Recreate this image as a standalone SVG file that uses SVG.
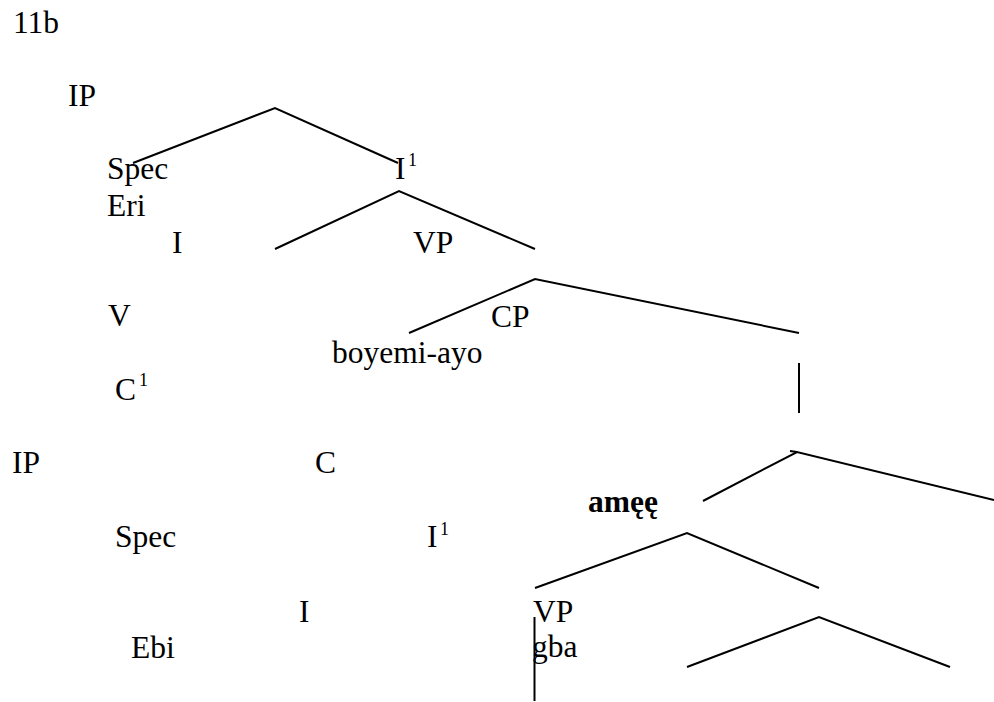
<svg xmlns="http://www.w3.org/2000/svg" width="994" height="702" viewBox="0 0 994 702">
  <style>
    text { font-family: "Liberation Serif", "Times New Roman", serif; font-size: 31.5px; fill: #000; }
    .sup { font-size: 18px; }
    .bold { font-weight: bold; }
    .edge { fill: none; stroke: #000; stroke-width: 2; stroke-linejoin: miter; }
  </style>
  <rect width="994" height="702" fill="#fff"/>

  <!-- tree branches -->
  <g id="connectors">
    <polyline class="edge" points="133,163 275,108 398,163"/>
    <polyline class="edge" points="275,249 399,191 535,249"/>
    <polyline class="edge" points="409,333 535,279 799,333"/>
    <line class="edge" x1="799" y1="363" x2="799" y2="413"/>
    <polyline class="edge" points="703,501 797,452 994,500"/>
    <line class="edge" x1="790" y1="451" x2="797" y2="452"/>
    <polyline class="edge" points="535,588 687,533 819,588"/>
    <line class="edge" x1="534.5" y1="617" x2="534.5" y2="701"/>
    <polyline class="edge" points="687,667 819,617 950,667"/>
  </g>

  <!-- example number -->
  <g id="label-11b"><text x="13" y="33">11b</text></g>

  <!-- upper clause -->
  <g id="node-ip-top"><text x="68" y="106">IP</text></g>
  <g id="node-spec-top"><text x="107" y="179">Spec</text></g>
  <g id="node-eri"><text x="107" y="216">Eri</text></g>
  <g id="node-ibar-top"><text x="395" y="179">I</text><text class="sup" x="408" y="166">1</text></g>
  <g id="node-i-top"><text x="172" y="253">I</text></g>
  <g id="node-vp-top"><text x="413" y="253">VP</text></g>
  <g id="node-v"><text x="108" y="326">V</text></g>
  <g id="node-cp"><text x="491" y="327">CP</text></g>
  <g id="node-boyemi"><text x="332" y="363">boyemi-ayo</text></g>
  <g id="node-cbar"><text x="115" y="400">C</text><text class="sup" x="139" y="386">1</text></g>

  <!-- embedded clause -->
  <g id="node-ip-low"><text x="12" y="473">IP</text></g>
  <g id="node-c"><text x="315" y="473">C</text></g>
  <g id="node-amee"><text class="bold" x="588" y="512">amęę</text></g>
  <g id="node-spec-low"><text x="115" y="547">Spec</text></g>
  <g id="node-ibar-low"><text x="427" y="547">I</text><text class="sup" x="440" y="535">1</text></g>
  <g id="node-i-low"><text x="299" y="622">I</text></g>
  <g id="node-vp-low"><text x="533" y="622">VP</text></g>
  <g id="node-ebi"><text x="131" y="658">Ebi</text></g>
  <g id="node-gba"><text x="532" y="657">gba</text></g>
</svg>
